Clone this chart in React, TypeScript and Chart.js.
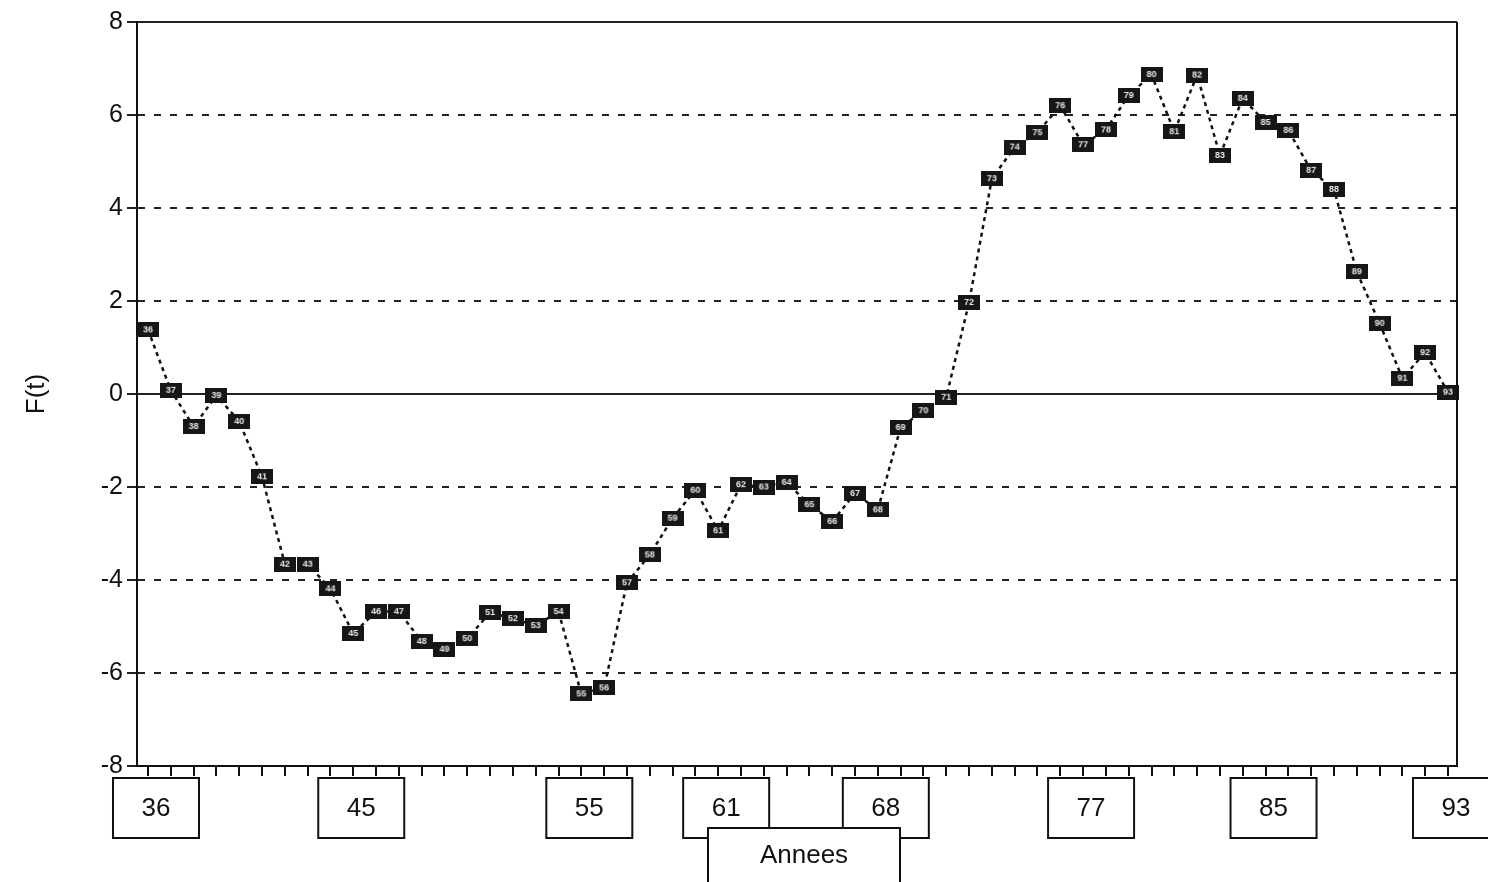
import React, { useEffect, useRef } from 'react';
import { Chart, registerables } from 'chart.js';

Chart.register(...registerables);

// Years (two-digit) on the horizontal axis
const years = [
  36, 37, 38, 39, 40, 41, 42, 43, 44, 45,
  46, 47, 48, 49, 50, 51, 52, 53, 54, 55,
  56, 57, 58, 59, 60, 61, 62, 63, 64, 65,
  66, 67, 68, 69, 70, 71, 72, 73, 74, 75,
  76, 77, 78, 79, 80, 81, 82, 83, 84, 85,
  86, 87, 88, 89, 90, 91, 92, 93,
];

// F(t) for each year
const fValues = [
  1.38, 0.08, -0.7, -0.03, -0.59, -1.78, -3.66, -3.66, -4.19, -5.15,
  -4.68, -4.68, -5.32, -5.49, -5.26, -4.7, -4.83, -4.98, -4.68, -6.45,
  -6.32, -4.06, -3.46, -2.67, -2.07, -2.94, -1.95, -2.0, -1.9, -2.38,
  -2.74, -2.14, -2.49, -0.72, -0.36, -0.07, 1.97, 4.63, 5.31, 5.62,
  6.2, 5.36, 5.68, 6.42, 6.87, 5.64, 6.86, 5.13, 6.36, 5.84,
  5.67, 4.81, 4.4, 2.63, 1.52, 0.34, 0.89, 0.04,
];

// Years that carry a boxed label under the axis
const labelledYears = [36, 45, 55, 61, 68, 77, 85, 93];

const xTitle = 'Annees';
const yTitle = 'F(t)';

const FONT = '"Liberation Sans", Arial, sans-serif';
const INK = '#111';

function makeMarker(year: number): HTMLCanvasElement {
  const c = document.createElement('canvas');
  c.width = 22;
  c.height = 15;
  const g = c.getContext('2d')!;
  g.fillStyle = '#161616';
  g.fillRect(0, 0, 22, 15);
  g.fillStyle = '#e8e8e8';
  g.font = `bold 9px ${FONT}`;
  g.textAlign = 'center';
  g.textBaseline = 'middle';
  g.fillText(String(year), 11, 8);
  return c;
}

const framePlugin = {
  id: 'frame',
  afterDraw(chart: any) {
    const { ctx, chartArea, scales } = chart;
    const x = scales.x;
    ctx.save();
    ctx.strokeStyle = INK;
    ctx.lineWidth = 2;

    // right-hand border
    ctx.beginPath();
    ctx.moveTo(chartArea.right, chartArea.top);
    ctx.lineTo(chartArea.right, chartArea.bottom);
    ctx.stroke();

    // boxed year labels
    ctx.font = `26px ${FONT}`;
    ctx.textAlign = 'center';
    ctx.textBaseline = 'middle';
    const boxW = 86;
    const boxH = 60;
    const cy = chartArea.bottom + 42;
    labelledYears.forEach((yr) => {
      const cx = x.getPixelForValue(yr) + 8;
      ctx.fillStyle = '#fff';
      ctx.fillRect(cx - boxW / 2, cy - boxH / 2, boxW, boxH);
      ctx.strokeRect(cx - boxW / 2, cy - boxH / 2, boxW, boxH);
      ctx.fillStyle = INK;
      ctx.fillText(String(yr), cx, cy + 1);
    });

    // axis title in its own open box
    const ax = (chartArea.left + chartArea.right) / 2 + 7;
    const top = chartArea.bottom + 62;
    const half = 96;
    ctx.fillStyle = '#fff';
    ctx.fillRect(ax - half, top, half * 2, chart.height - top + 4);
    ctx.beginPath();
    ctx.moveTo(ax - half, chart.height + 4);
    ctx.lineTo(ax - half, top);
    ctx.lineTo(ax + half, top);
    ctx.lineTo(ax + half, chart.height + 4);
    ctx.stroke();
    ctx.fillStyle = INK;
    ctx.fillText(xTitle, ax, top + 28);
    ctx.restore();
  },
};

export default function App() {
  const canvasRef = useRef<HTMLCanvasElement | null>(null);

  useEffect(() => {
    const canvas = canvasRef.current;
    if (!canvas) return;
    const markers = years.map((y) => makeMarker(y));
    const chart = new Chart(canvas, {
      type: 'line',
      data: {
        datasets: [
          {
            data: years.map((y, i) => ({ x: y, y: fValues[i] })),
            borderColor: INK,
            borderWidth: 2.5,
            borderDash: [4, 4],
            tension: 0,
            fill: false,
            clip: false,
            pointStyle: (c: any) => markers[c.dataIndex],
            pointRadius: 8,
          } as any,
        ],
      },
      options: {
        responsive: false,
        animation: false,
        events: [],
        layout: { padding: { left: 0, top: 22, right: 31, bottom: 0 } },
        plugins: {
          legend: { display: false },
          tooltip: { enabled: false },
        },
        scales: {
          x: {
            type: 'linear',
            min: 35.518,
            max: 93.395,
            afterFit: (s: any) => {
              s.height = 116;
            },
            ticks: {
              stepSize: 1,
              includeBounds: false,
              autoSkip: false,
              maxRotation: 0,
              callback: () => '',
            },
            grid: {
              drawOnChartArea: false,
              drawTicks: true,
              tickLength: 10,
              color: INK,
              lineWidth: 2,
            },
            border: { display: true, color: INK, width: 2 },
          },
          y: {
            min: -8,
            max: 8,
            afterFit: (s: any) => {
              s.width = 137;
            },
            ticks: {
              stepSize: 2,
              padding: 4,
              color: INK,
              font: { family: FONT, size: 25 },
            },
            grid: {
              color: '#222',
              lineWidth: 2,
              tickLength: 10,
            },
            border: {
              display: true,
              color: INK,
              width: 2,
              dash: (c: any) =>
                c.tick && (c.tick.value === 0 || Math.abs(c.tick.value) === 8) ? [] : [7, 9],
            } as any,
            title: {
              display: true,
              text: yTitle,
              color: INK,
              font: { family: FONT, size: 26 },
              padding: { top: 21, bottom: 0 },
            },
          },
        },
      },
      plugins: [framePlugin],
    });
    return () => chart.destroy();
  }, []);

  return (
    <div style={{ position: 'absolute', left: 0, top: 0, width: 1488, height: 882, background: '#fff' }}>
      <canvas ref={canvasRef} width={1488} height={882} style={{ display: 'block' }} />
    </div>
  );
}
